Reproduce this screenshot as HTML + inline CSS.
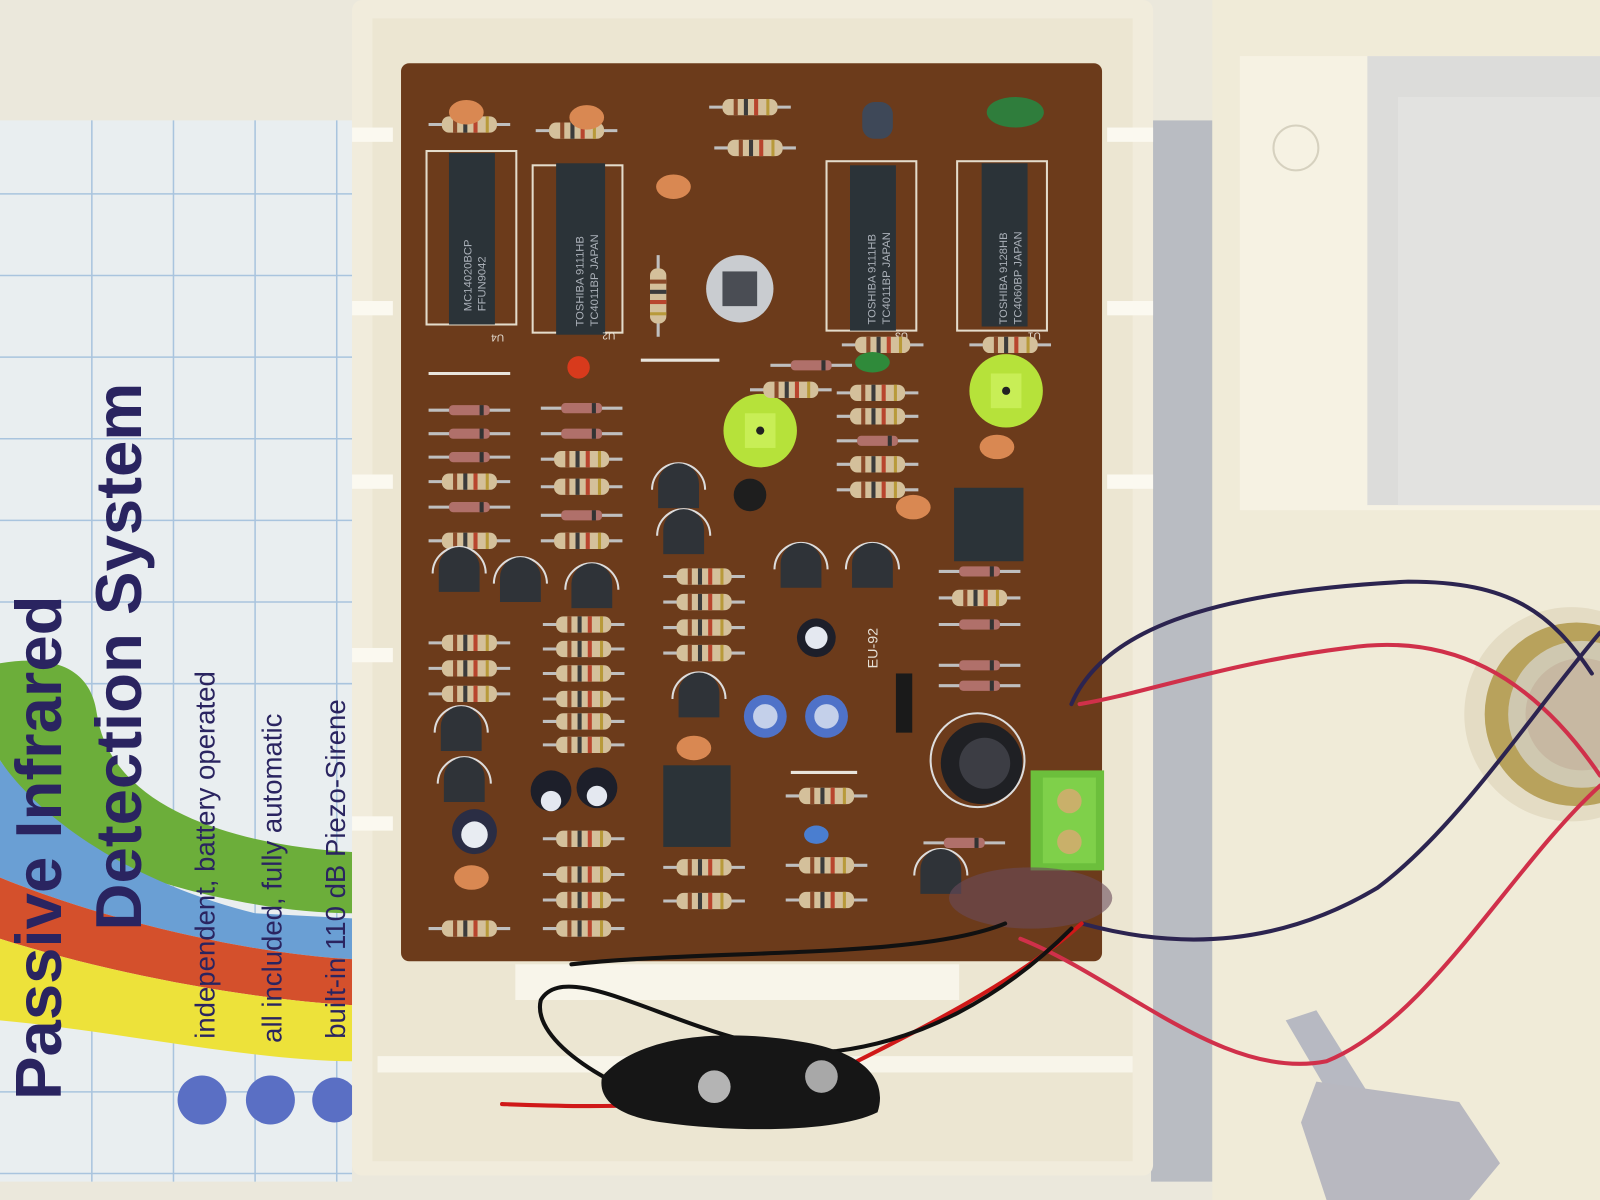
<!DOCTYPE html>
<html><head><meta charset="utf-8"><style>
html,body{margin:0;padding:0;background:#ebe8dc;}
svg{display:block}
</style></head><body>
<svg width="1600" height="1200" viewBox="0 0 1568 1176" xmlns="http://www.w3.org/2000/svg" font-family="Liberation Sans, sans-serif">
<defs>
<g id="res"><line x1="-40" y1="0" x2="40" y2="0" stroke="#bfbfbf" stroke-width="3"/><rect x="-27" y="-8" width="54" height="16" rx="7" fill="#d4c09b"/><rect x="-16" y="-8" width="4" height="16" fill="#8a4a2a"/><rect x="-6" y="-8" width="4" height="16" fill="#3b3b3b"/><rect x="4" y="-8" width="4" height="16" fill="#b8452e"/><rect x="16" y="-8" width="3" height="16" fill="#b89a3a"/></g>
<g id="dio"><line x1="-40" y1="0" x2="40" y2="0" stroke="#bfbfbf" stroke-width="3"/><rect x="-20" y="-5" width="40" height="10" rx="4" fill="#b0706a"/><rect x="10" y="-5" width="4" height="10" fill="#333"/></g>
<g id="tr"><path d="M-26 0 A26 26 0 0 1 26 0" fill="none" stroke="#ddd" stroke-width="2"/><path d="M-20 -6 A20 20 0 0 1 20 -6 L20 18 L-20 18 Z" fill="#2f3338"/></g>
<g id="cap"><ellipse cx="0" cy="0" rx="17" ry="12" fill="#d98852"/></g>
</defs>
<rect width="1568" height="1176" fill="#ebe8dc"/>
<!-- paper -->
<rect x="0" y="118" width="345" height="1040" fill="#e9eef0"/>
<g stroke="#a9c4de" stroke-width="1.5">
<line x1="90" y1="118" x2="90" y2="1158"/><line x1="170" y1="118" x2="170" y2="1158"/><line x1="250" y1="118" x2="250" y2="1158"/><line x1="330" y1="118" x2="330" y2="1158"/>
<line x1="0" y1="190" x2="345" y2="190"/><line x1="0" y1="270" x2="345" y2="270"/><line x1="0" y1="350" x2="345" y2="350"/><line x1="0" y1="430" x2="345" y2="430"/><line x1="0" y1="510" x2="345" y2="510"/><line x1="0" y1="590" x2="345" y2="590"/><line x1="0" y1="670" x2="345" y2="670"/><line x1="0" y1="1070" x2="345" y2="1070"/><line x1="0" y1="1150" x2="345" y2="1150"/>
</g>
<path d="M0 650 C60 640 90 660 95 700 C110 800 250 830 345 835 L345 895 C250 895 110 860 60 820 C30 790 10 760 0 745Z" fill="#6cae3a"/>
<path d="M0 745 C30 790 110 860 250 895 L345 900 L345 940 C250 935 110 905 0 860Z" fill="#6a9fd4"/>
<path d="M0 860 C110 905 250 935 345 940 L345 985 C250 980 110 955 0 920Z" fill="#d4502c"/>
<path d="M0 920 C110 955 250 980 345 985 L345 1040 C250 1040 110 1010 0 1000Z" fill="#ede23a"/>
<circle cx="198" cy="1078" r="24" fill="#5a6fc4"/><circle cx="265" cy="1078" r="24" fill="#5a6fc4"/><circle cx="328" cy="1078" r="22" fill="#5a6fc4"/>
<g fill="#2a2460" font-weight="bold">
<text transform="translate(60 1078) rotate(-90)" font-size="64">Passive Infrared</text>
<text transform="translate(138 912) rotate(-90)" font-size="64">Detection System</text>
<text transform="translate(210 1018) rotate(-90)" font-size="27" font-weight="normal">independent, battery operated</text>
<text transform="translate(276 1022) rotate(-90)" font-size="27" font-weight="normal">all included, fully automatic</text>
<text transform="translate(338 1018) rotate(-90)" font-size="27" font-weight="normal">built-in 110 dB Piezo-Sirene</text>
</g>
<!-- center gray strip -->
<rect x="1128" y="118" width="62" height="1040" fill="#b9bcc2"/>
<!-- enclosure -->
<rect x="345" y="0" width="785" height="1152" rx="10" fill="#f1ecdc"/>
<rect x="365" y="18" width="745" height="1120" fill="#ece6d2"/>
<g fill="#fbf9f0"><rect x="345" y="125" width="40" height="14"/><rect x="345" y="295" width="40" height="14"/><rect x="345" y="465" width="40" height="14"/><rect x="345" y="635" width="40" height="14"/><rect x="345" y="800" width="40" height="14"/>
<rect x="1085" y="125" width="45" height="14"/><rect x="1085" y="295" width="45" height="14"/><rect x="1085" y="465" width="45" height="14"/></g>
<rect x="505" y="945" width="435" height="35" fill="#f8f5ea"/>
<rect x="370" y="1035" width="740" height="16" fill="#f8f5ea"/>
<!-- right part -->
<rect x="1188" y="0" width="380" height="1176" fill="#f0ebd8"/>
<rect x="1215" y="55" width="353" height="445" fill="#f6f2e3"/>
<rect x="1340" y="55" width="228" height="440" fill="#dcdcda"/>
<rect x="1370" y="95" width="198" height="400" fill="#e2e2e0"/>
<circle cx="1270" cy="145" r="22" fill="none" stroke="#d6d1bf" stroke-width="2"/>
<circle cx="1540" cy="700" r="105" fill="#e4dcc4"/>
<circle cx="1545" cy="700" r="90" fill="#b8a25c"/>
<circle cx="1550" cy="700" r="72" fill="#cfc8b0"/>
<circle cx="1550" cy="700" r="55" fill="#c7b8a2"/>
<!-- key -->
<path d="M1260 1000 L1290 990 L1340 1070 L1310 1085Z" fill="#b7b9c2"/>
<path d="M1290 1060 L1430 1080 L1470 1140 L1440 1176 L1300 1176 L1275 1100Z" fill="#b8b8c0"/>
<!-- PCB -->
<rect x="393" y="62" width="687" height="880" rx="8" fill="#6c3b1b"/>
<!-- ICs -->
<g fill="none" stroke="#e4dccb" stroke-width="2"><rect x="418" y="148" width="88" height="170"/><rect x="522" y="162" width="88" height="164"/><rect x="810" y="158" width="88" height="166"/><rect x="938" y="158" width="88" height="166"/></g>
<g fill="#2b3338"><rect x="440" y="150" width="45" height="168"/><rect x="545" y="160" width="48" height="168"/><rect x="833" y="162" width="45" height="162"/><rect x="962" y="160" width="45" height="160"/><rect x="650" y="750" width="66" height="80"/><rect x="935" y="478" width="68" height="72"/></g>
<g fill="#aab0b8" font-size="11">
<text transform="translate(462 305) rotate(-90)">MC14020BCP</text><text transform="translate(476 305) rotate(-90)">FFUN9042</text>
<text transform="translate(572 320) rotate(-90)">TOSHIBA 9111HB</text><text transform="translate(586 320) rotate(-90)">TC4011BP JAPAN</text>
<text transform="translate(858 318) rotate(-90)">TOSHIBA 9111HB</text><text transform="translate(872 318) rotate(-90)">TC4011BP JAPAN</text>
<text transform="translate(987 318) rotate(-90)">TOSHIBA 9128HB</text><text transform="translate(1001 318) rotate(-90)">TC4060BP JAPAN</text>
</g>
<g fill="#e6e0d6" font-size="10"><text x="482" y="332" transform="rotate(180 488 330)">U4</text><text x="597" y="334" transform="rotate(180 600 330)">U2</text><text x="880" y="334" transform="rotate(180 885 330)">U3</text><text x="1010" y="334" transform="rotate(180 1015 330)">U1</text><text x="860" y="655" transform="rotate(-90 860 655)" font-size="14">EU-92</text></g>
<!-- sensor -->
<circle cx="725" cy="283" r="33" fill="#c9ccd0"/><rect x="708" y="266" width="34" height="34" fill="#4a4d54"/>
<!-- trimpots -->
<circle cx="745" cy="422" r="36" fill="#b6e23a"/><rect x="730" y="405" width="30" height="34" fill="#c8ee56"/><circle cx="745" cy="422" r="4" fill="#222"/>
<circle cx="986" cy="383" r="36" fill="#b6e23a"/><rect x="971" y="366" width="30" height="34" fill="#c8ee56"/><circle cx="986" cy="383" r="4" fill="#222"/>
<circle cx="735" cy="485" r="16" fill="#1e1e1e"/>
<!-- resistors -->
<g>
<use href="#res" x="460" y="122"/><use href="#res" x="565" y="128"/><use href="#res" x="735" y="105"/><use href="#res" x="740" y="145"/><use href="#res" x="645" y="290" transform="rotate(90 645 290)"/>
<use href="#dio" x="460" y="402"/><use href="#dio" x="460" y="425"/><use href="#dio" x="460" y="448"/><use href="#res" x="460" y="472"/><use href="#dio" x="460" y="497"/><use href="#res" x="460" y="530"/>
<use href="#res" x="460" y="630"/><use href="#res" x="460" y="655"/><use href="#res" x="460" y="680"/><use href="#res" x="460" y="910"/>
<use href="#dio" x="570" y="400"/><use href="#dio" x="570" y="425"/><use href="#res" x="570" y="450"/><use href="#res" x="570" y="477"/><use href="#dio" x="570" y="505"/><use href="#res" x="570" y="530"/>
<use href="#res" x="572" y="612"/><use href="#res" x="572" y="636"/><use href="#res" x="572" y="660"/><use href="#res" x="572" y="685"/><use href="#res" x="572" y="707"/><use href="#res" x="572" y="730"/>
<use href="#res" x="572" y="822"/><use href="#res" x="572" y="857"/><use href="#res" x="572" y="882"/><use href="#res" x="572" y="910"/>
<use href="#res" x="690" y="565"/><use href="#res" x="690" y="590"/><use href="#res" x="690" y="615"/><use href="#res" x="690" y="640"/><use href="#res" x="690" y="850"/><use href="#res" x="690" y="883"/>
<use href="#dio" x="795" y="358"/><use href="#res" x="775" y="382"/>
<use href="#res" x="865" y="338"/><use href="#res" x="860" y="385"/><use href="#res" x="860" y="408"/><use href="#dio" x="860" y="432"/><use href="#res" x="860" y="455"/><use href="#res" x="860" y="480"/>
<use href="#res" x="990" y="338"/>
<use href="#res" x="810" y="780"/><use href="#res" x="810" y="848"/><use href="#res" x="810" y="882"/>
<use href="#dio" x="960" y="560"/><use href="#res" x="960" y="586"/><use href="#dio" x="960" y="612"/><use href="#dio" x="960" y="652"/><use href="#dio" x="960" y="672"/><use href="#dio" x="945" y="826"/>
</g>
<g stroke="#e8e4dc" stroke-width="3"><line x1="420" y1="366" x2="500" y2="366"/><line x1="628" y1="353" x2="705" y2="353"/><line x1="775" y1="757" x2="840" y2="757"/></g>
<!-- transistors -->
<g>
<use href="#tr" x="450" y="562"/><use href="#tr" x="510" y="572"/><use href="#tr" x="580" y="578"/><use href="#tr" x="665" y="480"/><use href="#tr" x="670" y="525"/><use href="#tr" x="785" y="558"/><use href="#tr" x="855" y="558"/><use href="#tr" x="685" y="685"/><use href="#tr" x="452" y="718"/><use href="#tr" x="455" y="768"/><use href="#tr" x="922" y="858"/>
</g>
<rect x="845" y="100" width="30" height="36" rx="12" fill="#3e4858"/>
<circle cx="567" cy="360" r="11" fill="#d83a1c"/>
<!-- caps -->
<use href="#cap" x="457" y="110"/><use href="#cap" x="575" y="115"/><use href="#cap" x="660" y="183"/><use href="#cap" x="895" y="497"/><use href="#cap" x="977" y="438"/><use href="#cap" x="680" y="733"/><use href="#cap" x="462" y="860"/>
<ellipse cx="995" cy="110" rx="28" ry="15" fill="#2f7d3c"/><ellipse cx="855" cy="355" rx="17" ry="10" fill="#2f8a3a"/><ellipse cx="800" cy="818" rx="12" ry="9" fill="#4a7ed0"/>
<!-- electrolytics -->
<circle cx="800" cy="625" r="19" fill="#1d1f2a"/><circle cx="800" cy="625" r="11" fill="#e4e8f0"/>
<circle cx="750" cy="702" r="21" fill="#4f72c8"/><circle cx="750" cy="702" r="12" fill="#c4d0ea"/>
<circle cx="810" cy="702" r="21" fill="#4f72c8"/><circle cx="810" cy="702" r="12" fill="#c4d0ea"/>
<circle cx="540" cy="775" r="20" fill="#1d1f2a"/><circle cx="540" cy="785" r="10" fill="#e4e8f0"/>
<circle cx="585" cy="772" r="20" fill="#1d1f2a"/><circle cx="585" cy="780" r="10" fill="#e4e8f0"/>
<circle cx="465" cy="815" r="22" fill="#2a2d44"/><circle cx="465" cy="818" r="13" fill="#e8ecf2"/>
<rect x="878" y="660" width="16" height="58" fill="#1a1a1a"/>
<!-- inductor -->
<circle cx="958" cy="745" r="46" fill="none" stroke="#ddd" stroke-width="2"/><circle cx="962" cy="748" r="40" fill="#1f2024"/><circle cx="965" cy="748" r="25" fill="#3c3d44"/>
<!-- terminal -->
<rect x="1010" y="755" width="72" height="98" fill="#6cbf3c"/><rect x="1022" y="762" width="52" height="84" fill="#7fd04a"/>
<circle cx="1048" cy="785" r="12" fill="#c9b06a"/><circle cx="1048" cy="825" r="12" fill="#c9b06a"/>
<ellipse cx="1010" cy="880" rx="80" ry="30" fill="#6b4b5a" opacity=".6"/>
<!-- wires -->
<g fill="none" stroke-width="4" stroke-linecap="round">
<path d="M1050 690 C1080 620 1180 580 1380 570 C1480 570 1520 600 1560 660" stroke="#2c2450"/>
<path d="M1058 690 C1120 680 1200 650 1320 635 C1420 620 1500 660 1568 760" stroke="#d0304a"/>
<path d="M1060 905 C1150 930 1250 930 1350 870 C1430 810 1500 700 1568 620" stroke="#2c2450"/>
<path d="M1000 920 C1100 960 1200 1060 1300 1040 C1400 1000 1480 850 1568 770" stroke="#d0304a"/>
<path d="M1060 905 C1000 960 900 1010 820 1050 C700 1090 580 1085 492 1082" stroke="#d01818"/>
<path d="M1050 910 C980 980 900 1020 820 1030 C700 1040 560 930 530 980 C520 1020 600 1070 680 1090" stroke="#111"/>
<path d="M985 905 C900 940 700 930 560 945" stroke="#111"/>
</g>
<!-- battery clip -->
<path d="M590 1055 C630 1010 720 1010 780 1020 C850 1030 870 1060 860 1090 C820 1110 720 1110 650 1100 C610 1095 585 1080 590 1055Z" fill="#161616"/>
<circle cx="700" cy="1065" r="16" fill="#b4b4b4"/><circle cx="805" cy="1055" r="16" fill="#a8a8a8"/>
</svg>
</body></html>
